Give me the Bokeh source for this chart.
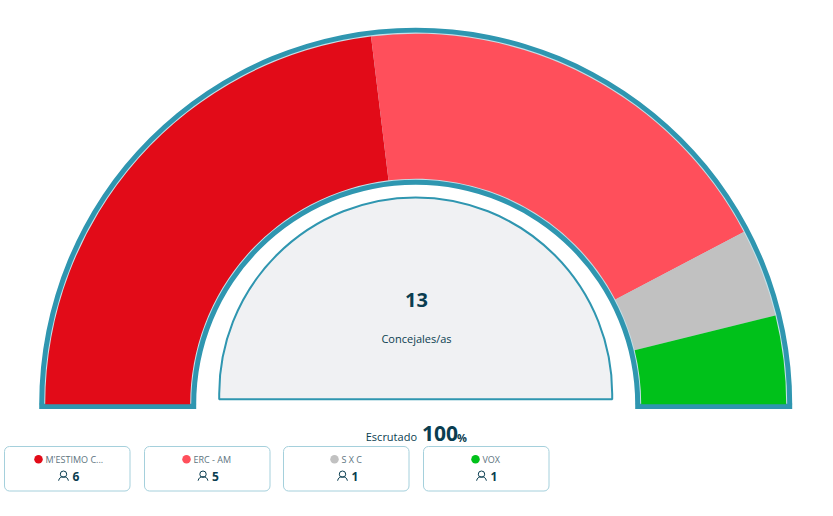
from math import pi
from bokeh.plotting import figure
from bokeh.models import BoxAnnotation
from bokeh.core.properties import value
from bokeh.embed import file_html
from bokeh.resources import INLINE

parties = ["M'ESTIMO C...", "ERC - AM", "S X C", "VOX"]
seats = [6, 5, 1, 1]
colors = ["#e20b18", "#ff4f5b", "#c1c1c1", "#00c11a"]
total_label = "13"
total_caption = "Concejales/as"
scrutiny_label = "Escrutado"
scrutiny_value = "100"
scrutiny_unit = "%"

TEAL = "#2f96b0"
LIGHT = "#c4e0e8"
INK = "#0a3d50"
CX, BASE = 415.2, 403.7
X = lambda px: px - CX
Y = lambda py: BASE - py

p = figure(width=833, height=516, output_backend="svg", toolbar_location=None,
           x_range=(X(0), X(833)), y_range=(Y(516), Y(0)), min_border=0,
           x_axis_type=None, y_axis_type=None, outline_line_color=None,
           background_fill_color="white", border_fill_color="white")
p.grid.visible = False

# gauge frame
p.annular_wedge([CX - CX], [0], inner_radius=219.5, outer_radius=376.5, start_angle=0, end_angle=pi,
                fill_color=TEAL, line_color=None)
p.annular_wedge([0], [0], inner_radius=224.5, outer_radius=371.5, start_angle=0, end_angle=pi,
                fill_color=LIGHT, line_color=None)
p.quad(left=[X(38.7), X(634.7)], right=[X(195.7), X(791.7)], top=[Y(403.2), Y(403.2)], bottom=[Y(408.6), Y(408.6)],
       fill_color=TEAL, line_color=None)

# seat sectors (left to right)
total = sum(seats)
end = pi
for s, c in zip(seats, colors):
    start = end - pi * s / total
    p.annular_wedge([0], [0], inner_radius=225.5, outer_radius=370.5, start_angle=start, end_angle=end,
                    fill_color=c, line_color=None)
    end = start

# inner panel
PC, PB, PR = 393.5, 398.8, 196.5
p.wedge([0], [Y(PC)], radius=PR, start_angle=0, end_angle=pi, fill_color="#f0f1f3", line_color=None)
p.quad(left=[-PR], right=[PR], top=[Y(PC)], bottom=[Y(PB)], fill_color="#f0f1f3", line_color=None)
p.arc([0], [Y(PC)], radius=PR, start_angle=0, end_angle=pi, line_color=TEAL, line_width=2)
p.line([-PR, -PR, PR, PR], [Y(PC), Y(PB), Y(PB), Y(PC)], line_color=TEAL, line_width=2)

FONT = value("Open Sans")
def txt(px, py, s, size, color=INK, bold=False, align="center"):
    p.text([X(px)], [Y(py)], text=[s], text_font=FONT, text_font_size=f"{size}px", text_color=color,
           text_font_style="bold" if bold else "normal", text_align=align, text_baseline="middle")

txt(416, 299, total_label, 20, bold=True)
txt(416, 338, total_caption, 11)
txt(416.5, 436, scrutiny_label, 11, align="right")
txt(421.5, 433, scrutiny_value, 21, bold=True, align="left")
txt(456.5, 436.5, scrutiny_unit, 11, bold=True, align="left")

# legend cards
card_left = [4, 144, 283, 423]
dot_x = [38, 186, 334, 475]
icon_x = [63, 202.5, 342, 481]
for name, n, c, cl, dx, ix in zip(parties, seats, colors, card_left, dot_x, icon_x):
    p.add_layout(BoxAnnotation(left=X(cl), right=X(cl + 125.5), top=Y(446), bottom=Y(490.5),
                               fill_color="white", fill_alpha=1, line_color="#a5d0dc", line_alpha=1, line_width=1,
                               border_radius=5, level="underlay"))
    p.scatter([X(dx)], [Y(458.7)], size=8.5, marker="circle", fill_color=c, line_color=None)
    txt(dx + 7, 458.5, name, 9, color="#5d7480", align="left")
    # person icon
    p.circle([X(ix)], [Y(473.7)], radius=3.2, fill_color="white", line_color=INK, line_width=1)
    p.arc([X(ix)], [Y(481.2)], radius=5, start_angle=0.2, end_angle=pi - 0.2, line_color=INK, line_width=1)
    txt(ix + 9, 476, str(n), 12, bold=True, align="left")

open("out.html", "w").write(file_html(p, INLINE))
